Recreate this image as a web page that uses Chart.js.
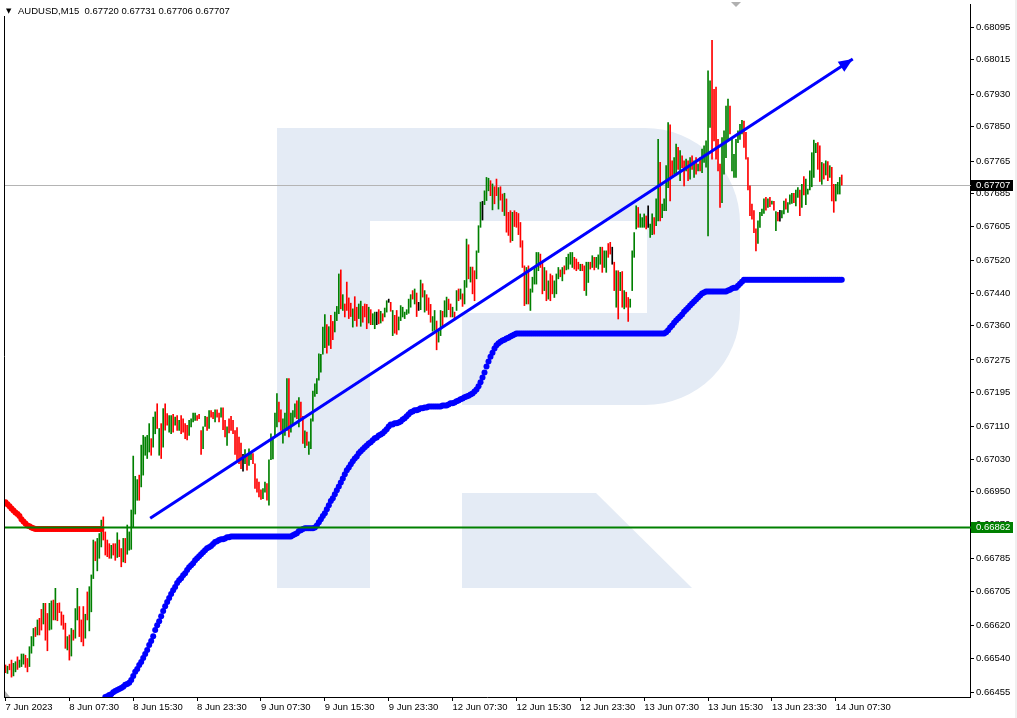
<!DOCTYPE html>
<html><head><meta charset="utf-8">
<script src="https://cdn.jsdelivr.net/npm/chart.js@4.4.0/dist/chart.umd.min.js"></script>
<style>html,body{margin:0;padding:0;background:#fff;}canvas{display:block;}</style>
</head><body>
<canvas id="c" width="1017" height="718"></canvas>
<script>
// ---------------- DATA ----------------
const SYMBOL = 'AUDUSD,M15';
const LAST_OHLC = ['0.67720', '0.67731', '0.67706', '0.67707'];
const LAST_PRICE = 0.67707;
const LEVEL_PRICE = 0.66862;

const X_TICK_BARS = [0, 32, 64, 96, 128, 160, 192, 224, 256, 288, 320, 352, 384, 416];
const X_TICK_LABELS = ['7 Jun 2023', '8 Jun 07:30', '8 Jun 15:30', '8 Jun 23:30', '9 Jun 07:30', '9 Jun 15:30',
  '9 Jun 23:30', '12 Jun 07:30', '12 Jun 15:30', '12 Jun 23:30', '13 Jun 07:30', '13 Jun 15:30',
  '13 Jun 23:30', '14 Jun 07:30'];
const Y_TICK_LABELS = ['0.68095', '0.68015', '0.67930', '0.67850', '0.67765', '0.67685', '0.67605', '0.67520',
  '0.67440', '0.67360', '0.67275', '0.67195', '0.67110', '0.67030', '0.66950', '0.66870', '0.66785',
  '0.66705', '0.66620', '0.66540', '0.66455'];
const Y_MIN = 0.66444, Y_MAX = 0.681526;      // visible price range
const X_MIN = -0.75, X_MAX = 483.25;          // visible bar range (incl. right shift)

// M15 bars, price x 100000
const BAR_HIGH = [
66523,66520,66525,66535,66527,66531,66543,66535,66550,66550,
66547,66539,66568,66593,66613,66616,66634,66638,66660,66675,
66675,66650,66675,66681,66683,66712,66675,66676,66654,66646,
66626,66593,66597,66613,66609,66662,66712,66667,66634,66667,
66648,66703,66716,66745,66831,66827,66835,66847,66880,66888,
66851,66831,66822,66818,66822,66822,66849,66831,66810,66835,
66835,66868,66851,66905,67038,66988,66980,66991,67065,67089,
67085,67089,67118,67081,67134,67147,67167,67106,67118,67155,
67167,67143,67138,67138,67141,67134,67138,67126,67138,67130,
67118,67114,67126,67130,67144,67144,67138,67141,67101,67110,
67136,67134,67150,67150,67146,67152,67152,67144,67157,67157,
67126,67110,67130,67136,67126,67101,67108,67085,67070,67042,
67054,67042,67056,67046,67044,67019,66982,66974,66955,66958,
66974,66970,67029,67093,67085,67144,67192,67171,67152,67130,
67144,67229,67229,67144,67150,67167,67174,67182,67171,67136,
67100,67097,67073,67130,67198,67216,67229,67290,67289,67356,
67387,67362,67357,67385,67370,67393,67407,67487,67497,67436,
67413,67467,67428,67415,67401,67431,67405,67413,67420,67407,
67413,67412,67405,67399,67389,67393,67393,67399,67395,67389,
67403,67421,67425,67417,67397,67385,67397,67381,67409,67405,
67393,67399,67425,67436,67446,67450,67440,67417,67472,67463,
67446,67436,67428,67412,67382,67397,67371,67348,67397,67395,
67421,67430,67425,67413,67405,67393,67446,67450,67450,67438,
67471,67573,67559,67504,67504,67495,67544,67606,67664,67666,
67692,67725,67723,67717,67709,67702,67721,67700,67702,67684,
67686,67672,67639,67643,67639,67643,67639,67636,67614,67569,
67507,67503,67507,67450,67479,67503,67540,67540,67536,67516,
67503,67495,67470,67487,67483,67470,67487,67503,67497,67503,
67507,67528,67536,67540,67540,67528,67524,67516,67511,67511,
67507,67516,67516,67516,67532,67528,67528,67534,67553,67553,
67544,67544,67562,67565,67553,67516,67495,67495,67491,67493,
67446,67442,67429,67425,67544,67589,67655,67651,67635,67626,
67635,67630,67655,67610,67635,67626,67672,67819,67762,67659,
67672,67754,67860,67855,67766,67774,67807,67799,67791,67778,
67766,67770,67766,67774,67778,67766,67774,67758,67774,67795,
67803,67815,67988,67963,68063,67942,67948,67819,67758,67823,
67840,67901,67918,67901,67823,67782,67819,67840,67856,67866,
67864,67836,67774,67704,67659,67643,67598,67618,67639,67647,
67672,67676,67672,67676,67667,67666,67641,67639,67644,67643,
67667,67672,67663,67682,67686,67686,67694,67700,67694,67708,
67727,67721,67696,67741,67786,67817,67809,67811,67803,67762,
67759,67766,67764,67754,67750,67708,67708,67713,67725,67731];
const BAR_LOW = [
66504,66502,66511,66493,66496,66506,66512,66517,66519,66525,
66517,66506,66519,66552,66570,66593,66597,66597,66609,66624,
66584,66558,66609,66611,66634,66634,66632,66652,66621,66611,
66564,66560,66535,66545,66584,66589,66634,66593,66580,66570,
66589,66634,66607,66654,66736,66780,66755,66786,66814,66831,
66794,66790,66786,66786,66794,66781,66788,66790,66765,66777,
66775,66796,66806,66808,66862,66895,66929,66929,66962,66991,
67040,67032,67048,67040,67060,67093,67106,67040,67032,67060,
67102,67114,67097,67093,67097,67114,67101,67101,67093,67097,
67081,67078,67089,67110,67122,67126,67126,67130,67042,67056,
67111,67101,67106,67134,67130,67122,67134,67122,67134,67103,
67085,67064,67095,67101,67093,67042,67029,67019,67007,67001,
67019,67003,67015,67029,67019,66958,66949,66937,66931,66933,
66949,66929,66917,67029,67031,67085,67110,67122,67101,67070,
67089,67101,67085,67097,67114,67134,67130,67110,67130,67069,
67059,67064,67042,67056,67124,67185,67192,67225,67245,67289,
67305,67292,67311,67303,67325,67344,67372,67389,67401,67397,
67381,67397,67377,67382,67356,67372,67358,67377,67358,67368,
67381,67352,67366,67362,67362,67352,67362,67364,67366,67371,
67381,67393,67417,67395,67335,67341,67338,67349,67372,67381,
67377,67387,67390,67405,67425,67413,67382,67397,67399,67430,
67393,67397,67387,67368,67346,67348,67300,67319,67335,67356,
67381,67381,67399,67381,67381,67374,67397,67421,67425,67407,
67413,67454,67475,67467,67438,67421,67475,67540,67602,67620,
67658,67668,67692,67680,67645,67660,67680,67647,67669,67641,
67631,67590,67582,67565,67569,67604,67602,67584,67553,67503,
67409,67413,67413,67397,67442,67462,67462,67495,67503,67438,
67446,67421,67425,67421,67438,67429,67438,67475,67480,67470,
67487,67497,67499,67511,67503,67499,67495,67499,67495,67495,
67446,67434,67466,67499,67503,67497,67503,67499,67511,67491,
67503,67491,67528,67536,67511,67446,67405,67376,67446,67405,
67401,67405,67370,67405,67446,67528,67598,67602,67602,67602,
67602,67598,67602,67577,67584,67585,67606,67618,67618,67626,
67643,67643,67700,67667,67725,67733,67733,67745,67717,67749,
67704,67741,67717,67721,67745,67725,67733,67741,67741,67737,
67762,67750,67581,67848,67770,67815,67770,67741,67651,67663,
67733,67774,67815,67832,67741,67725,67725,67811,67819,67832,
67799,67770,67694,67631,67622,67589,67544,67562,67602,67631,
67636,67644,67651,67653,67659,67644,67594,67618,67617,67625,
67635,67647,67639,67659,67661,67663,67655,67676,67631,67651,
67682,67658,67684,67694,67702,67725,67786,67745,67715,67708,
67721,67731,67717,67725,67667,67639,67667,67684,67684,67706];
// bar direction: u = up (close > open), d = down, n = unchanged
const BAR_DIRS = [
 'd','u','d','d','u','u','d','u','u','u',  'd','d','u','u','u','d','u','d','d','u',
 'd','d','u','u','d','u','d','d','d','d',  'd','u','d','u','d','u','u','d','d','d',
 'u','d','u','u','u','d','u','u','u','d',  'd','d','d','u','d','d','u','d','d','u',
 'd','u','u','u','u','u','u','d','u','u',  'u','u','u','d','u','u','d','u','d','u',
 'd','d','u','u','d','u','d','u','d','d',  'd','d','u','u','u','u','d','d','d','u',
 'u','d','u','d','d','u','d','d','u','d',  'd','u','d','d','d','d','d','d','d','n',
 'u','d','u','u','d','d','d','d','d','u',  'u','d','u','u','u','u','u','d','d','u',
 'u','u','d','u','u','u','d','u','d','d',  'u','d','u','u','u','u','u','u','u','u',
 'u','d','u','d','d','u','u','u','d','u',  'd','d','d','d','u','d','d','u','u','d',
 'd','d','u','d','u','u','n','d','u','d',  'u','u','n','d','u','d','d','u','u','u',
 'u','u','u','u','d','u','d','n','u','d',  'u','d','d','d','u','u','d','u','u','d',
 'u','u','d','d','u','d','u','d','u','d',  'u','u','d','u','d','d','u','u','u','n',
 'u','u','u','d','u','d','d','u','d','d',  'u','d','d','d','u','d','d','d','d','d',
 'd','u','d','u','u','u','u','u','d','d',  'u','d','u','d','d','u','u','u','d','u',
 'd','u','u','u','u','d','d','d','u','d',  'd','u','u','d','u','d','u','u','u','d',
 'u','u','d','d','n','d','u','d','u','d',  'u','d','d','u','u','u','u','d','u','u',
 'u','d','n','u','u','d','u','u','d','u',  'u','u','u','d','d','u','u','d','u','d',
 'd','u','d','u','d','u','d','u','d','u',  'u','u','u','u','d','d','d','d','d','u',
 'u','u','u','d','u','u','u','u','u','u',  'd','d','d','d','d','d','d','u','u','u',
 'u','d','u','d','u','d','u','d','n','u',  'u','d','u','u','u','d','u','u','d','u',
 'd','u','u','u','u','u','u','d','d','u',  'd','u','d','u','d','d','u','u','u','d'
];
// red trailing-stop line, starting at bar 0
const RED_LINE = [
66924,66919,66914,66909,66904,66899,66895,66890,66882,66877,
66872,66867,66865,66862,66860,66858,66858,66858,66858,66858,
66858,66858,66858,66858,66858,66858,66858,66858,66858,66858,
66858,66858,66858,66858,66858,66858,66858,66858,66858,66858,
66858,66858,66858,66858,66858,66858,66858,66858,66858];
// blue trailing-stop line, starting at bar 50
const BLUE_FROM = 50;
const BLUE_LINE = [
66444,66446,66449,66451,66456,66459,66461,66464,66466,66469,
66474,66476,66479,66486,66496,66506,66513,66523,66530,66540,
66550,66560,66572,66582,66594,66609,66621,66631,66643,66656,
66668,66678,66688,66698,66707,66715,66725,66732,66737,66744,
66749,66757,66764,66769,66774,66781,66786,66791,66796,66801,
66806,66811,66813,66816,66821,66826,66828,66831,66833,66833,
66835,66838,66838,66840,66840,66840,66840,66840,66840,66840,
66840,66840,66840,66840,66840,66840,66840,66840,66840,66840,
66840,66840,66840,66840,66840,66840,66840,66840,66840,66840,
66840,66840,66840,66840,66843,66845,66848,66853,66855,66858,
66860,66860,66860,66860,66860,66862,66867,66875,66882,66890,
66897,66907,66917,66927,66934,66944,66954,66963,66973,66983,
66993,67003,67010,67018,67025,67032,67037,67045,67050,67055,
67060,67064,67069,67072,67077,67082,67084,67089,67091,67094,
67099,67104,67111,67116,67116,67119,67119,67121,67123,67128,
67131,67136,67141,67146,67148,67151,67151,67153,67156,67156,
67158,67158,67160,67160,67160,67160,67160,67160,67160,67163,
67163,67163,67165,67168,67168,67170,67173,67175,67178,67180,
67183,67185,67187,67190,67192,67197,67202,67210,67220,67232,
67244,67259,67271,67283,67293,67303,67311,67316,67320,67323,
67325,67328,67330,67333,67335,67338,67340,67340,67340,67340,
67340,67340,67340,67340,67340,67340,67340,67340,67340,67340,
67340,67340,67340,67340,67340,67340,67340,67340,67340,67340,
67340,67340,67340,67340,67340,67340,67340,67340,67340,67340,
67340,67340,67340,67340,67340,67340,67340,67340,67340,67340,
67340,67340,67340,67340,67340,67340,67340,67340,67340,67340,
67340,67340,67340,67340,67340,67340,67340,67340,67340,67340,
67340,67340,67340,67340,67340,67340,67340,67340,67340,67340,
67340,67343,67348,67355,67360,67367,67372,67377,67382,67387,
67394,67399,67404,67409,67414,67419,67424,67429,67434,67439,
67441,67444,67444,67444,67444,67444,67444,67444,67444,67444,
67444,67444,67446,67448,67451,67453,67453,67458,67463,67468,
67473,67473,67473,67473,67473,67473,67473,67473,67473,67473,
67473,67473,67473,67473,67473,67473,67473,67473,67473,67473,
67473,67473,67473,67473,67473,67473,67473,67473,67473,67473,
67473,67473,67473,67473,67473,67473,67473,67473,67473,67473,
67473,67473,67473,67473,67473,67473,67473,67473,67473,67473];
// trend arrow: [bar, price]
const ARROW_FROM = [72.5, 0.66885];
const ARROW_TO = [424.5, 0.68017];
</script>
<script>
// ---------------- RENDER ----------------
const FONT = 'Liberation Sans';
const FSIZE = 9.5;
const P = 1e5;
const DIR_COLORS = {u: '#008000', d: '#ff0000', n: '#000000'};
const COL_WM = '#e4ebf5';

const barData = BAR_HIGH.map((h, i) => ({x: i, y: [BAR_LOW[i] / P, h / P]}));
const barColors = BAR_HIGH.map((h, i) => DIR_COLORS[BAR_DIRS[i]] || '#000');
const redData = RED_LINE.map((v, i) => ({x: i, y: v / P}));
const blueData = BLUE_LINE.map((v, i) => ({x: BLUE_FROM + i, y: v / P}));
const arrowData = [{x: ARROW_FROM[0], y: ARROW_FROM[1]}, {x: ARROW_TO[0], y: ARROW_TO[1]}];

const deco = {
  id: 'deco',
  beforeDraw(chart) {
    const {ctx, chartArea: a} = chart;
    ctx.save();
    ctx.fillStyle = '#ffffff';
    ctx.fillRect(0, 0, chart.width, chart.height);
    ctx.fillStyle = '#f0f0f0';
    ctx.fillRect(chart.width - 2, 0, 2, chart.height);
    ctx.beginPath();
    ctx.rect(a.left, a.top, a.right - a.left, a.bottom - a.top);
    ctx.clip();
    // watermark logo
    ctx.fillStyle = COL_WM;
    ctx.beginPath();
    ctx.moveTo(277, 128);
    ctx.arcTo(740, 128, 740, 405, 95);
    ctx.arcTo(740, 405, 462, 405, 95);
    ctx.lineTo(462, 405);
    ctx.lineTo(462, 313);
    ctx.lineTo(647, 313);
    ctx.lineTo(647, 221);
    ctx.lineTo(370, 221);
    ctx.lineTo(370, 588);
    ctx.lineTo(277, 588);
    ctx.closePath();
    ctx.fill();
    ctx.beginPath();
    ctx.moveTo(462, 493);
    ctx.lineTo(596, 493);
    ctx.lineTo(692, 588);
    ctx.lineTo(462, 588);
    ctx.closePath();
    ctx.fill();
    ctx.restore();
  },
  beforeDatasetsDraw(chart) {
    const {ctx, chartArea: a, scales: {y}} = chart;
    const py = Math.round(y.getPixelForValue(LAST_PRICE)) + 0.5;
    ctx.save();
    ctx.strokeStyle = '#b4b4b4';
    ctx.lineWidth = 1;
    ctx.beginPath();
    ctx.moveTo(a.left, py);
    ctx.lineTo(a.right + 1, py);
    ctx.stroke();
    ctx.restore();
  },
  afterDatasetsDraw(chart) {
    const {ctx, chartArea: a, scales: {y}} = chart;
    ctx.save();
    // arrow head
    const meta = chart.getDatasetMeta(0);
    const p0 = meta.data[0], p1 = meta.data[1];
    const ang = Math.atan2(p1.y - p0.y, p1.x - p0.x);
    const L = 14, W = 6;
    const bx = p1.x - L * Math.cos(ang), by = p1.y - L * Math.sin(ang);
    ctx.fillStyle = '#0000ff';
    ctx.beginPath();
    ctx.moveTo(p1.x, p1.y);
    ctx.lineTo(bx + W * Math.sin(ang), by - W * Math.cos(ang));
    ctx.lineTo(bx - W * Math.sin(ang), by + W * Math.cos(ang));
    ctx.closePath();
    ctx.fill();
    // level line
    const gy = y.getPixelForValue(LEVEL_PRICE);
    ctx.strokeStyle = '#008000';
    ctx.lineWidth = 2;
    ctx.beginPath();
    ctx.moveTo(a.left, gy);
    ctx.lineTo(a.right + 1, gy);
    ctx.stroke();
    ctx.restore();
  },
  afterDraw(chart) {
    const {ctx, chartArea: a, scales: {y}} = chart;
    ctx.save();
    ctx.font = FSIZE + 'px "' + FONT + '"';
    ctx.textBaseline = 'middle';
    // price boxes on the axis
    const boxes = [[LAST_PRICE, '#000000'], [LEVEL_PRICE, '#008000']];
    boxes.forEach(([v, col]) => {
      const py = Math.round(y.getPixelForValue(v));
      ctx.fillStyle = col;
      ctx.fillRect(a.right + 1, py - 5, 42, 11);
      ctx.fillStyle = '#ffffff';
      ctx.fillText(v.toFixed(5), a.right + 6, py + 0.5);
    });
    // left frame line
    ctx.strokeStyle = '#000';
    ctx.lineWidth = 1;
    ctx.beginPath();
    ctx.moveTo(a.left + 0.5, 16);
    ctx.lineTo(a.left + 0.5, a.bottom);
    ctx.stroke();
    // small grey markers
    ctx.fillStyle = '#b0b0b0';
    ctx.beginPath();
    ctx.moveTo(731, 2); ctx.lineTo(741, 2); ctx.lineTo(736, 7); ctx.closePath(); ctx.fill();
    ctx.beginPath();
    ctx.moveTo(a.left + 1, a.bottom - 6); ctx.lineTo(a.left + 6, a.bottom); ctx.lineTo(a.left + 1, a.bottom); ctx.closePath(); ctx.fill();
    // header
    ctx.fillStyle = '#000';
    ctx.textBaseline = 'alphabetic';
    ctx.font = '7px "DejaVu Sans"';
    ctx.fillText('\u25BC', 6, 13);
    ctx.font = FSIZE + 'px "' + FONT + '"';
    ctx.fillText(SYMBOL + '  ' + LAST_OHLC.join(' '), 18, 14);
    ctx.restore();
  }
};

new Chart(document.getElementById('c'), {
  data: {
    datasets: [
      {type: 'line', data: arrowData, borderColor: '#0000ff', borderWidth: 3, pointRadius: 0, order: 1},
      {type: 'line', data: blueData, showLine: false, pointRadius: 3, pointBackgroundColor: '#0000ff',
        pointBorderWidth: 0, order: 2},
      {type: 'line', data: redData, showLine: false, pointRadius: 3, pointBackgroundColor: '#ff0000',
        pointBorderWidth: 0, order: 3},
      {type: 'bar', data: barData, backgroundColor: barColors, barThickness: 1, borderWidth: 0, order: 4}
    ]
  },
  options: {
    responsive: false,
    devicePixelRatio: 1,
    animation: false,
    events: [],
    layout: {padding: {left: 2, top: 3, right: 0, bottom: 0}},
    plugins: {legend: {display: false}, tooltip: {enabled: false}, title: {display: false}},
    scales: {
      x: {
        type: 'linear', position: 'bottom', min: X_MIN, max: X_MAX, offset: false,
        afterBuildTicks: s => { s.ticks = X_TICK_BARS.map(v => ({value: v})); },
        afterFit: s => { s.height = 21; s.paddingLeft = 0; s.paddingRight = 0; },
        ticks: {autoSkip: false, maxRotation: 0, minRotation: 0, align: 'start', padding: 1,
          color: '#000', font: {family: FONT, size: FSIZE},
          callback: (v, i) => X_TICK_LABELS[i]},
        grid: {offset: false, drawOnChartArea: false, drawTicks: true, tickLength: 4, color: '#000', lineWidth: 1},
        border: {display: true, color: '#000', width: 1}
      },
      y: {
        type: 'linear', position: 'right', min: Y_MIN, max: Y_MAX,
        afterBuildTicks: s => { s.ticks = Y_TICK_LABELS.map(t => ({value: parseFloat(t)})); },
        afterFit: s => { s.width = 47; s.paddingTop = 0; s.paddingBottom = 0; },
        ticks: {padding: 2, color: '#000', font: {family: FONT, size: FSIZE},
          callback: (v, i) => Y_TICK_LABELS[i]},
        grid: {drawOnChartArea: false, drawTicks: true, tickLength: 4, color: '#000', lineWidth: 1},
        border: {display: true, color: '#000', width: 1}
      }
    }
  },
  plugins: [deco]
});
</script>
</body></html>
